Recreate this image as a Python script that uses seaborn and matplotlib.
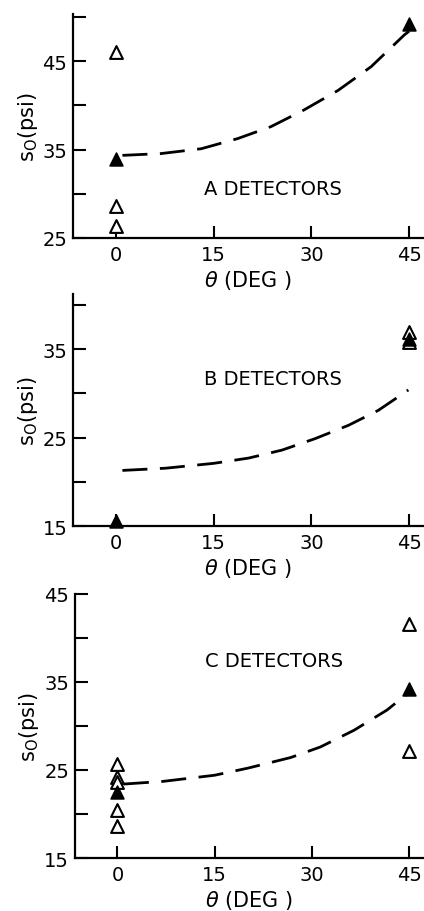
import numpy as np
import pandas as pd
import matplotlib
matplotlib.use("Agg")
import matplotlib.pyplot as plt
import seaborn as sns

sns.set_style("ticks")
plt.rcParams['font.family'] = ['DejaVu Sans']
plt.rcParams['mathtext.fontset'] = 'dejavusans'
for k in ['text.color', 'axes.labelcolor', 'xtick.color', 'ytick.color',
          'axes.edgecolor']:
    plt.rcParams[k] = 'black'

# ---- Data ----
# Panel A
a_open_theta = [0, 0, 0]
a_open_s = [46.1, 28.6, 26.4]
a_fill_theta = [0, 45]
a_fill_s = [33.9, 49.2]
a_curve_theta = [1.0, 6.9, 13.1, 18.7, 23.8, 28.9, 34.1, 39.2, 44.3, 45.0]
a_curve_s = [34.35, 34.55, 35.1, 36.25, 37.6, 39.5, 41.7, 44.4, 48.0, 48.4]

# Panel B
b_open_theta = [45, 45]
b_open_s = [36.9, 35.8]
b_fill_theta = [0, 45]
b_fill_s = [15.6, 36.2]
b_curve_theta = [1.0, 7.6, 15.0, 20.4, 25.5, 30.6, 35.7, 40.3, 44.9]
b_curve_s = [21.3, 21.55, 22.1, 22.7, 23.6, 24.9, 26.4, 28.1, 30.4]

# Panel C
c_open_theta = [0, 0, 0, 0, 0, 45, 45]
c_open_s = [25.7, 24.2, 23.6, 20.4, 18.6, 41.5, 27.2]
c_fill_theta = [0, 45]
c_fill_s = [22.5, 34.2]
c_curve_theta = [1.0, 7.0, 15.0, 20.1, 26.7, 31.3, 36.5, 41.6, 45.0]
c_curve_s = [23.4, 23.7, 24.4, 25.2, 26.4, 27.6, 29.5, 31.8, 33.8]

x_ticks = [0, 15, 30, 45]
panel_labels = ["A DETECTORS", "B DETECTORS", "C DETECTORS"]

panels = [
    dict(op=(a_open_theta, a_open_s), fi=(a_fill_theta, a_fill_s),
         cu=(a_curve_theta, a_curve_s), ylim=(25, 50.4),
         major=[25, 35, 45], minor=[30, 40, 50], text_xy=(24.1, 30.6),
         pos=[0.172, 0.738, 0.828, 0.246]),
    dict(op=(b_open_theta, b_open_s), fi=(b_fill_theta, b_fill_s),
         cu=(b_curve_theta, b_curve_s), ylim=(15, 41.3),
         major=[15, 25, 35], minor=[20, 30, 40], text_xy=(24.1, 31.7),
         pos=[0.172, 0.422, 0.828, 0.255]),
    dict(op=(c_open_theta, c_open_s), fi=(c_fill_theta, c_fill_s),
         cu=(c_curve_theta, c_curve_s), ylim=(15, 45),
         major=[15, 25, 35, 45], minor=[20, 30, 40], text_xy=(24.1, 37.4),
         pos=[0.176, 0.058, 0.824, 0.290]),
]

fig = plt.figure(figsize=(4.24, 9.12), dpi=100)

for p, lbl in zip(panels, panel_labels):
    ax = fig.add_axes(p["pos"])
    cdf = pd.DataFrame({"theta": p["cu"][0], "s": p["cu"][1]})
    sns.lineplot(data=cdf, x="theta", y="s", ax=ax, color="black",
                 linewidth=2.0, dashes=False, linestyle=(0, (9, 4.5)))
    odf = pd.DataFrame({"theta": p["op"][0], "s": p["op"][1]})
    sns.scatterplot(data=odf, x="theta", y="s", ax=ax, marker="^", s=85,
                    facecolor="white", edgecolor="black", linewidth=1.5,
                    clip_on=False, zorder=3)
    fdf = pd.DataFrame({"theta": p["fi"][0], "s": p["fi"][1]})
    sns.scatterplot(data=fdf, x="theta", y="s", ax=ax, marker="^", s=85,
                    color="black", edgecolor="black", linewidth=1.2,
                    clip_on=False, zorder=4)
    ax.set_xlim(-6.6, 47.3)
    ax.set_ylim(*p["ylim"])
    ax.set_xticks(x_ticks)
    ax.set_xticklabels([str(t) for t in x_ticks])
    ax.set_yticks(p["major"])
    ax.set_yticklabels([str(t) for t in p["major"]])
    ax.set_yticks(p["minor"], minor=True)
    ax.tick_params(axis="both", which="both", direction="in", length=9,
                   width=1.5, labelsize=14, color="black", labelcolor="black")
    ax.tick_params(axis="x", pad=5)
    ax.tick_params(axis="y", pad=4)
    ax.tick_params(axis="x", which="minor", bottom=False)
    for side in ["top", "right"]:
        ax.spines[side].set_visible(False)
    for side in ["left", "bottom"]:
        ax.spines[side].set_linewidth(1.6)
        ax.spines[side].set_color("black")
    ax.set_xlabel(r"$\theta$ (DEG )", fontsize=15, labelpad=3, color="black")
    ax.set_ylabel(r"$\mathrm{s_O}$(psi)", fontsize=15, labelpad=2,
                  color="black")
    ax.text(p["text_xy"][0], p["text_xy"][1], lbl, fontsize=14,
            ha="center", va="center", color="black")

fig.savefig("out.png", dpi=100)
